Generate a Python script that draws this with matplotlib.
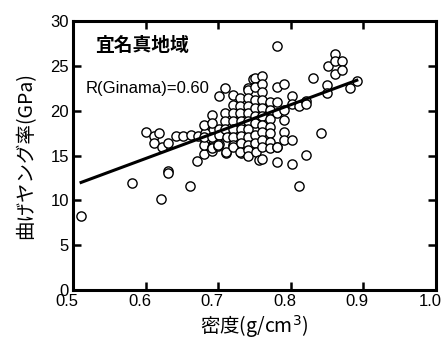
import numpy as np
import matplotlib
matplotlib.use("Agg")
import matplotlib.pyplot as plt
from matplotlib.transforms import ScaledTranslation

# density (g/cm3) and bending Young's modulus (GPa), Ginama samples
density = [
    0.511, 0.581, 0.621, 0.631, 0.631, 0.661, 0.671,
    0.601, 0.611, 0.619, 0.612, 0.622, 0.631, 0.642, 0.652, 0.662, 0.672,
    0.682, 0.682, 0.682, 0.681, 0.680, 0.680, 0.680,
    0.691, 0.691, 0.691, 0.691, 0.691, 0.691,
    0.700, 0.701, 0.701, 0.701, 0.701, 0.700,
    0.710, 0.710, 0.710, 0.710, 0.712, 0.711, 0.711,
    0.721, 0.721, 0.721, 0.721, 0.721, 0.721, 0.721, 0.721,
    0.730, 0.730, 0.730, 0.732, 0.732, 0.732, 0.732, 0.731, 0.730,
    0.741, 0.741, 0.741, 0.741, 0.741, 0.741, 0.741, 0.741, 0.741, 0.741, 0.741,
    0.748, 0.751, 0.751, 0.751, 0.751, 0.751, 0.751, 0.751, 0.751, 0.752, 0.756,
    0.761, 0.761, 0.761, 0.761, 0.761, 0.761, 0.761, 0.761, 0.761, 0.761, 0.761,
    0.771, 0.771, 0.771, 0.771, 0.771, 0.771, 0.771,
    0.781, 0.781, 0.781, 0.781, 0.781, 0.781, 0.781,
    0.790, 0.791, 0.791, 0.791, 0.791,
    0.801, 0.801, 0.801, 0.801,
    0.811, 0.811, 0.821, 0.821, 0.821,
    0.831, 0.841, 0.850, 0.850, 0.851,
    0.861, 0.861, 0.861, 0.871, 0.871, 0.881, 0.891,
]
modulus = [
    8.3, 11.9, 10.2, 13.3, 13.0, 11.6, 14.4,
    17.6, 17.2, 17.5, 16.4, 16.0, 16.4, 17.2, 17.2, 17.3, 17.2,
    18.3, 17.5, 16.7, 15.2, 18.4, 16.2,
    17.1,
    19.5, 18.6, 17.1, 16.0, 15.5, 15.8,
    16.1, 18.0, 17.3, 16.3, 21.6, 16.2,
    22.5, 19.7, 18.9, 18.0, 17.1, 15.3, 15.4,
    21.7, 20.6, 19.7, 18.8, 18.0, 17.1, 16.2, 16.0,
    21.4, 20.5, 19.7, 18.9, 18.0, 17.2, 16.4, 15.3, 15.4,
    22.5, 22.3, 21.4, 20.5, 19.7, 18.9, 18.0, 17.1, 16.2, 15.6, 14.9,
    23.5, 23.6, 22.7, 21.2, 20.3, 19.4, 18.6, 17.3, 16.4, 15.4, 14.5,
    23.9, 23.0, 22.1, 21.2, 20.3, 19.4, 18.4, 17.6, 16.7, 16.0, 14.6,
    21.0, 20.1, 19.1, 18.2, 17.5, 16.5, 15.8,
    27.2, 22.7, 21.0, 19.7, 16.0, 14.3, 16.0,
    23.0, 20.1, 19.0, 17.6, 16.7,
    21.6, 20.7, 16.7, 14.1,
    20.5, 11.6, 21.1, 20.7, 15.1,
    23.6, 17.5, 22.9, 22.0, 25.0,
    26.3, 25.5, 24.1, 25.5, 24.5, 22.5, 23.3,
]

# linear fit E = a * rho + b
fit_slope = 30.0
fit_intercept = -3.33
r_value = 0.60

plt.rcParams["font.family"] = ["Liberation Sans", "Noto Sans CJK JP"]
jp_font = ["Noto Sans CJK JP", "DejaVu Sans"]

fig = plt.figure(figsize=(4.43, 3.40), dpi=100)
ax = fig.add_axes([0.165, 0.147, 0.819, 0.791])

ax.scatter(density, modulus, s=44, facecolors="white", edgecolors="black",
           linewidths=1.0, zorder=2)

x_fit = np.array([min(density), max(density)])
ax.plot(x_fit, fit_slope * x_fit + fit_intercept, color="black", lw=2.2, zorder=3)

ax.set_xlim(0.5, 1.0)
ax.set_ylim(0, 30)
ax.set_xticks(np.arange(0.5, 1.01, 0.1))
ax.set_xticklabels([f"{v:.1f}" for v in np.arange(0.5, 1.01, 0.1)])
ax.set_yticks(np.arange(0, 31, 5))

for sp in ax.spines.values():
    sp.set_linewidth(2.2)
ax.tick_params(direction="in", length=6, width=1.8, top=True, right=True,
               labelsize=12, pad=3)

# x tick labels sit a little left of their ticks
shift = ScaledTranslation(-6 / 100, 0, fig.dpi_scale_trans)
for lbl in ax.get_xticklabels():
    lbl.set_transform(lbl.get_transform() + shift)

ax.set_xlabel("密度(g/cm$^3$)", family=jp_font, fontsize=14, labelpad=3)
ax.set_ylabel("曲げヤング率(GPa)", family=jp_font, fontsize=14, labelpad=10)

ax.text(0.06, 0.91, "宜名真地域", family=jp_font, fontsize=13.5,
        fontweight="bold", transform=ax.transAxes, va="center")
ax.text(0.035, 0.75, f"R(Ginama)={r_value:.2f}", fontsize=12,
        transform=ax.transAxes, va="center")

fig.savefig("out.png", dpi=100)
